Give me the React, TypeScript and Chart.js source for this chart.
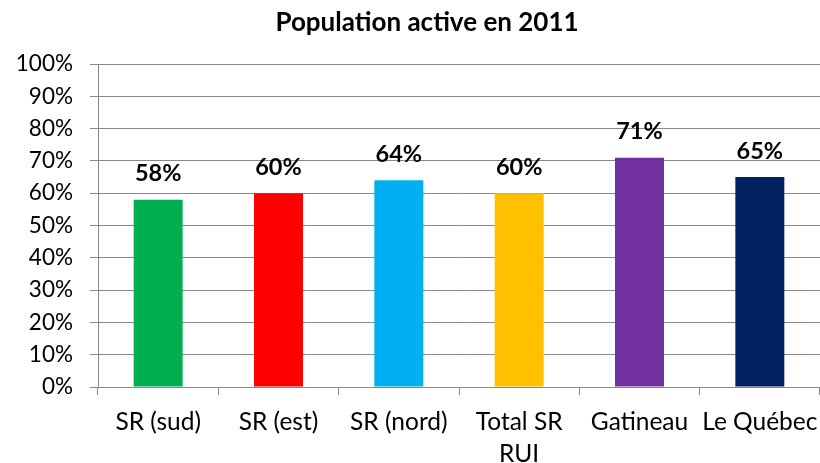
import React, { useEffect, useRef } from "react";
import { Chart, registerables } from "chart.js";

Chart.register(...registerables);

const categories: (string | string[])[] = ["SR (sud)", "SR (est)", "SR (nord)", ["Total SR", "RUI"], "Gatineau", "Le Québec"];
const values: number[] = [58, 60, 64, 60, 71, 65];
const barColors: string[] = ["#00B050", "#FF0000", "#00B0F0", "#FFC000", "#7030A0", "#002060"];
const titleText = "Population active en 2011";
const yTicks: number[] = [0, 10, 20, 30, 40, 50, 60, 70, 80, 90, 100];

const FONT = "Lato, 'Noto Sans', sans-serif";
const GRID = "#898989";

const valueLabels = {
  id: "valueLabels",
  afterDatasetsDraw(chart: any) {
    const ctx = chart.ctx;
    const meta = chart.getDatasetMeta(0);
    ctx.save();
    ctx.font = `bold 23.5px ${FONT}`;
    ctx.fillStyle = "#000000";
    ctx.textAlign = "center";
    ctx.textBaseline = "middle";
    meta.data.forEach((bar: any, i: number) => {
      ctx.fillText(`${values[i]}%`, bar.x, bar.y - 26);
    });
    ctx.restore();
  },
};

const titlePlugin = {
  id: "customTitle",
  afterDraw(chart: any) {
    const ctx = chart.ctx;
    ctx.save();
    ctx.font = `bold 26px ${FONT}`;
    ctx.fillStyle = "#000000";
    ctx.textAlign = "center";
    ctx.textBaseline = "middle";
    ctx.fillText(titleText, 427, 23);
    ctx.restore();
  },
};

export default function App() {
  const ref = useRef<HTMLCanvasElement>(null);
  useEffect(() => {
    if (!ref.current) return;
    const chart = new Chart(ref.current, {
      type: "bar",
      data: {
        labels: categories,
        datasets: [
          {
            data: values,
            backgroundColor: barColors,
            borderWidth: 0,
            categoryPercentage: 1,
            barPercentage: 0.407,
          },
        ],
      },
      options: {
        animation: false,
        responsive: false,
        devicePixelRatio: 1,
        layout: { padding: { left: 0, right: 0, top: 64, bottom: 0 } },
        plugins: {
          legend: { display: false },
          tooltip: { enabled: false },
          title: { display: false },
        },
        scales: {
          x: {
            grid: {
              display: true,
              drawOnChartArea: false,
              drawTicks: true,
              tickLength: 8,
              color: GRID,
              offset: true,
            },
            border: { display: true, color: GRID, width: 1 },
            ticks: {
              color: "#000000",
              font: { family: FONT, size: 24.5, lineHeight: 1.27 },
              padding: 12,
              maxRotation: 0,
              autoSkip: false,
            },
            afterFit(scale: any) {
              scale.height = 76;
              scale.paddingLeft = 0;
              scale.paddingRight = 0;
            },
          },
          y: {
            min: 0,
            max: 100,
            afterBuildTicks(scale: any) {
              scale.ticks = yTicks.map((v) => ({ value: v }));
            },
            grid: {
              color: GRID,
              drawTicks: true,
              tickLength: 8,
              lineWidth: 1,
            },
            border: { display: true, color: GRID, width: 1 },
            ticks: {
              color: "#000000",
              font: { family: FONT, size: 22.5 },
              padding: 17,
              callback: (v: any) => `${v}%`,
            },
            afterFit(scale: any) {
              scale.width = 98;
              scale.paddingTop = 0;
              scale.paddingBottom = 0;
            },
          },
        },
      },
      plugins: [valueLabels, titlePlugin],
    });
    return () => chart.destroy();
  }, []);
  return (
    <div style={{ position: "absolute", left: 0, top: 0, width: 820, height: 463, background: "#ffffff" }}>
      <canvas ref={ref} width={820} height={463} style={{ display: "block" }} />
    </div>
  );
}
